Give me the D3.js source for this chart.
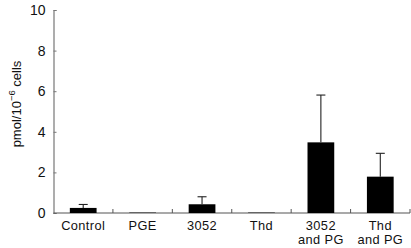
<!DOCTYPE html>
<html><head><meta charset="utf-8">
<script src="https://cdn.jsdelivr.net/npm/d3@7"></script>
<style>
body{margin:0;background:#fff;}
svg{display:block;font-family:"Liberation Sans",Arial,sans-serif;}
</style></head>
<body><svg id="c" width="411" height="248"></svg>
<script>
const categories = [["Control"],["PGE"],["3052"],["Thd"],["3052","and PG"],["Thd","and PG"]];
const means = [0.25, 0.02, 0.43, 0.02, 3.48, 1.79];
const errors = [0.17, 0, 0.37, 0, 2.33, 1.15];
const yTicks = [0,2,4,6,8,10];

const svg = d3.select("#c");
const m = {left:53.5, right:410, top:10, bottom:213};
const x = d3.scaleBand().domain(d3.range(categories.length)).range([m.left, m.right]).padding(0);
const y = d3.scaleLinear().domain([0,10]).range([m.bottom, m.top]);
const bw = x.bandwidth()*0.45;

// y axis
const ya = svg.append("g").attr("transform",`translate(${m.left},0)`)
  .call(d3.axisLeft(y).tickValues(yTicks).tickSize(-3).tickPadding(8).tickFormat(d3.format("d")));
ya.select(".domain").attr("stroke","#777").attr("stroke-width",1.2);
ya.selectAll(".tick line").attr("stroke","#777");
ya.selectAll(".tick text").attr("font-size",14).attr("fill","#111").attr("font-family","Liberation Sans, Arial, sans-serif");

// x axis baseline and inward ticks at band boundaries
svg.append("line").attr("x1",m.left).attr("x2",m.right).attr("y1",m.bottom).attr("y2",m.bottom)
  .attr("stroke","#555").attr("stroke-width",1.2);
svg.selectAll(".xt").data(d3.range(1,categories.length+1)).join("line")
  .attr("x1",d=>x.range()[0]+d*x.step()).attr("x2",d=>x.range()[0]+d*x.step())
  .attr("y1",m.bottom).attr("y2",m.bottom-4).attr("stroke","#555").attr("stroke-width",1);

// bars
svg.selectAll(".bar").data(means).join("rect")
  .attr("x",(d,i)=>x(i)+x.bandwidth()/2-bw/2).attr("width",bw)
  .attr("y",d=>y(d)).attr("height",d=>y(0)-y(d)).attr("fill","#000");

// error bars (upper only)
const eg = svg.selectAll(".err").data(means.map((d,i)=>({i,m:d,e:errors[i]})).filter(d=>d.e>0)).join("g");
eg.append("line").attr("x1",d=>x(d.i)+x.bandwidth()/2).attr("x2",d=>x(d.i)+x.bandwidth()/2)
  .attr("y1",d=>y(d.m)).attr("y2",d=>y(d.m+d.e)).attr("stroke","#222").attr("stroke-width",1.1);
eg.append("line").attr("x1",d=>x(d.i)+x.bandwidth()/2-4.5).attr("x2",d=>x(d.i)+x.bandwidth()/2+4.5)
  .attr("y1",d=>y(d.m+d.e)).attr("y2",d=>y(d.m+d.e)).attr("stroke","#222").attr("stroke-width",1.1);

// category labels (one text per line)
const lines = [];
categories.forEach((c,i)=>c.forEach((t,j)=>lines.push({i,j,t})));
svg.selectAll(".cl").data(lines).join("text")
  .attr("x",d=>x(d.i)+x.bandwidth()/2).attr("y",d=>230.3+d.j*13.8)
  .attr("text-anchor","middle").attr("font-size",12.8).attr("letter-spacing",0.4)
  .attr("fill","#111").text(d=>d.t);

// y label
const yl = svg.append("text").attr("transform","translate(20.5,104) rotate(-90)")
  .attr("text-anchor","middle").attr("font-size",13).attr("fill","#111");
yl.append("tspan").text("pmol/10");
yl.append("tspan").attr("dy",-5.5).attr("font-size",9.5).text("\u22126");
yl.append("tspan").attr("dy",5.5).text(" cells");
</script></body></html>
